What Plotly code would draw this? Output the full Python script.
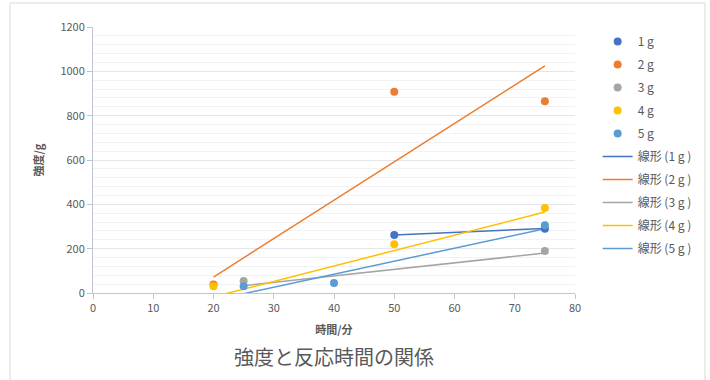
import plotly.graph_objects as go

# ---- data ----
series_names = ["1 g", "2 g", "3 g", "4 g", "5 g"]
colors = ["#4472C4", "#ED7D31", "#A5A5A5", "#FFC000", "#5B9BD5"]

x_1g = [50, 75]
y_1g = [262, 290]
x_2g = [20, 50, 75]
y_2g = [38, 908, 865]
x_3g = [25, 75]
y_3g = [54, 190]
x_4g = [20, 50, 75]
y_4g = [30, 220, 384]
x_5g = [25, 40, 75]
y_5g = [31, 45, 306]

# linear trendlines (start/end x and y)
trend_x = [[50, 75], [20, 75], [25, 75], [20, 75], [25, 75]]
trend_y = [[262, 291], [72, 1025], [33, 180], [-17, 365], [-3, 290]]

xs = [x_1g, x_2g, x_3g, x_4g, x_5g]
ys = [y_1g, y_2g, y_3g, y_4g, y_5g]

x_ticks = [0, 10, 20, 30, 40, 50, 60, 70, 80]
y_ticks = [0, 200, 400, 600, 800, 1000, 1200]

title_text = "強度と反応時間の関係"
x_title = "時間/分"
y_title = "強度/g"

FONT = "Noto Sans CJK JP, Liberation Sans, sans-serif"
TXT = "#595959"

fig = go.Figure()

line_traces = []
for k, (name, c, tx, ty) in enumerate(zip(series_names, colors, trend_x, trend_y)):
    line_traces.append(go.Scatter(
        x=tx, y=ty, mode="lines", name=f"線形 ({name} )",
        line=dict(color=c, width=1.5),
        legendgroup=f"t{k}", legendrank=10 + k,
    ))

marker_traces = []
for k, (name, c, x, y) in enumerate(zip(series_names, colors, xs, ys)):
    marker_traces.append(go.Scatter(
        x=x, y=y, mode="markers", name=name,
        marker=dict(color=c, size=8, line=dict(width=0)),
        legendgroup=f"m{k}", legendrank=k,
    ))

for tr in line_traces + marker_traces:
    fig.add_trace(tr)

fig.update_layout(
    width=710, height=380,
    margin=dict(l=93, r=135, t=27, b=87),
    paper_bgcolor="white", plot_bgcolor="white",
    font=dict(family=FONT, size=11, color=TXT),
    showlegend=True,
    legend=dict(
        x=1.047, xanchor="left", y=1.0, yanchor="top",
        font=dict(size=12, color=TXT, family=FONT),
        bgcolor="rgba(0,0,0,0)", tracegroupgap=4,
        itemwidth=30, maxheight=330,
    ),
    annotations=[
        dict(text=title_text, x=0.5, xref="paper", y=-0.175, yref="paper",
             xanchor="center", yanchor="top", showarrow=False,
             font=dict(size=20, color=TXT, family=FONT)),
    ],
    shapes=[
        dict(type="rect", xref="paper", yref="paper",
             x0=(10 - 93) / 482, x1=(705 - 93) / 482,
             y0=(293 - 400) / 266, y1=(293 - 3) / 266,
             line=dict(color="#D9D9D9", width=1), fillcolor="rgba(0,0,0,0)",
             layer="below"),
    ],
)

fig.update_xaxes(
    range=[0, 80], tickvals=x_ticks, ticktext=[str(v) for v in x_ticks],
    showgrid=False, zeroline=False,
    showline=True, linecolor="#BFC5D2", linewidth=1,
    ticks="outside", ticklen=5, tickcolor="#BFC5D2",
    tickfont=dict(size=11, color=TXT),
    title=dict(text=f"<b>{x_title}</b>", font=dict(size=11, color=TXT), standoff=12),
)
fig.update_yaxes(
    range=[0, 1200], tickvals=y_ticks, ticktext=[str(v) for v in y_ticks],
    showgrid=True, gridcolor="#E3E6EC", gridwidth=1,
    zeroline=False,
    showline=True, linecolor="#BFC5D2", linewidth=1,
    ticks="outside", ticklen=5, tickcolor="#BFC5D2",
    tickfont=dict(size=11, color=TXT),
    minor=dict(dtick=40, showgrid=True, gridcolor="#F2F2F4", gridwidth=1, ticks=""),
    title=dict(text=f"<b>{y_title}</b>", font=dict(size=11, color=TXT), standoff=14),
)

fig.write_html("out.html")
